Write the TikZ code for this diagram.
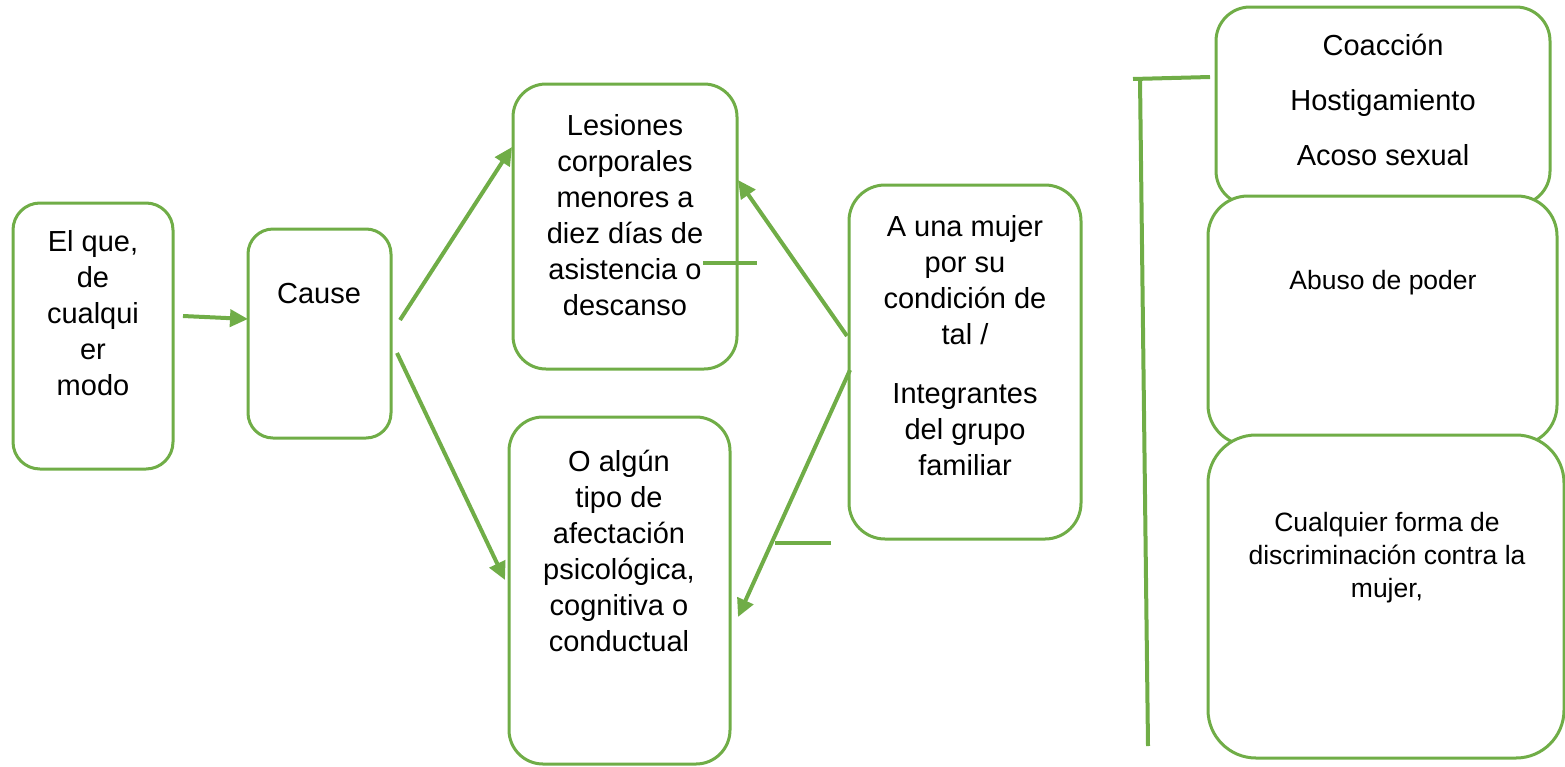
\documentclass[tikz,border=0pt]{standalone}
\usepackage{fontspec}
\setmainfont{Liberation Sans}
\usetikzlibrary{arrows.meta}
\definecolor{grn}{HTML}{70AD47}
\begin{document}
\begin{tikzpicture}[x=1pt,y=-1pt,
  box/.style={draw=grn, line width=3pt, fill=white, inner sep=0pt},
  txt/.style={font=\fontsize{29}{36}\selectfont, align=center, inner sep=0pt, anchor=base},
  stxt/.style={font=\fontsize{26.5}{33}\selectfont, align=center, inner sep=0pt, anchor=base},
  arr/.style={draw=grn, line width=4pt, -{Triangle[length=18pt,width=17pt]}},
  ln/.style={draw=grn, line width=4pt}]
\path[use as bounding box] (0,0) rectangle (1565,766);

% boxes
\node[box, rounded corners=27pt, minimum width=160pt, minimum height=266pt] (b1) at (93,336) {};
\node[box, rounded corners=25pt, minimum width=143pt, minimum height=209pt] (b2) at (319.5,333.5) {};
\node[box, rounded corners=33pt, minimum width=224pt, minimum height=285pt] (b3) at (625,226.5) {};
\node[box, rounded corners=34pt, minimum width=221pt, minimum height=347pt] (b4) at (619.5,590.5) {};
\node[box, rounded corners=36pt, minimum width=232pt, minimum height=354pt] (b5) at (965,362) {};
\node[box, rounded corners=34pt, minimum width=334pt, minimum height=198pt] (b6) at (1383,106) {};
\node[box, rounded corners=40pt, minimum width=349pt, minimum height=249pt] (b7) at (1382.5,320.5) {};
\node[box, rounded corners=48pt, minimum width=356pt, minimum height=323pt] (b8) at (1386,596.5) {};

% texts (anchored at the baseline of the last line)
\node[txt] (t1) at (93,395) {El que,\\de\\cualqui\\er\\modo};
\node[txt] (t2) at (319,303) {Cause};
\node[txt] (t3) at (625,315) {Lesiones\\corporales\\menores a\\diez días de\\asistencia o\\descanso};
\node[txt] (t4) at (619,651) {O algún\\tipo de\\afectación\\psicológica,\\cognitiva o\\conductual};
\node[txt] (t5) at (965,475) {A una mujer\\por su\\condición de\\tal /\\[23pt] Integrantes\\del grupo\\familiar};
\node[txt] (t6) at (1383,165) {Coacción\\[19pt]Hostigamiento\\[19pt]Acoso sexual};
\node[stxt] (t7) at (1383,289) {Abuso de poder};
\node[stxt] (t8) at (1387,597) {Cualquier forma de\\discriminación contra la\\mujer,};

% connector ends
\coordinate (a1s) at (183,316);  \coordinate (a1e) at (248,319);
\coordinate (a2s) at (400,320);  \coordinate (a2e) at (512,147);
\coordinate (a3s) at (397,353);  \coordinate (a3e) at (505,580);
\coordinate (a4s) at (847,336);  \coordinate (a4e) at (738,180);
\coordinate (a5s) at (850,370);  \coordinate (a5e) at (738,617);
\coordinate (s1a) at (703,263);  \coordinate (s1b) at (757,263);
\coordinate (s2a) at (775,543);  \coordinate (s2b) at (831,543);
\coordinate (k1) at (1133,79);   \coordinate (k2) at (1210,77);
\coordinate (k3) at (1140,79);   \coordinate (k4) at (1148,746);

\draw[arr] (a1s) -- (a1e);
\draw[arr] (a2s) -- (a2e);
\draw[arr] (a3s) -- (a3e);
\draw[arr] (a4s) -- (a4e);
\draw[arr] (a5s) -- (a5e);
\draw[ln] (s1a) -- (s1b);
\draw[ln] (s2a) -- (s2b);
\draw[ln] (k1) -- (k2);
\draw[ln] (k3) -- (k4);
\end{tikzpicture}
\end{document}
